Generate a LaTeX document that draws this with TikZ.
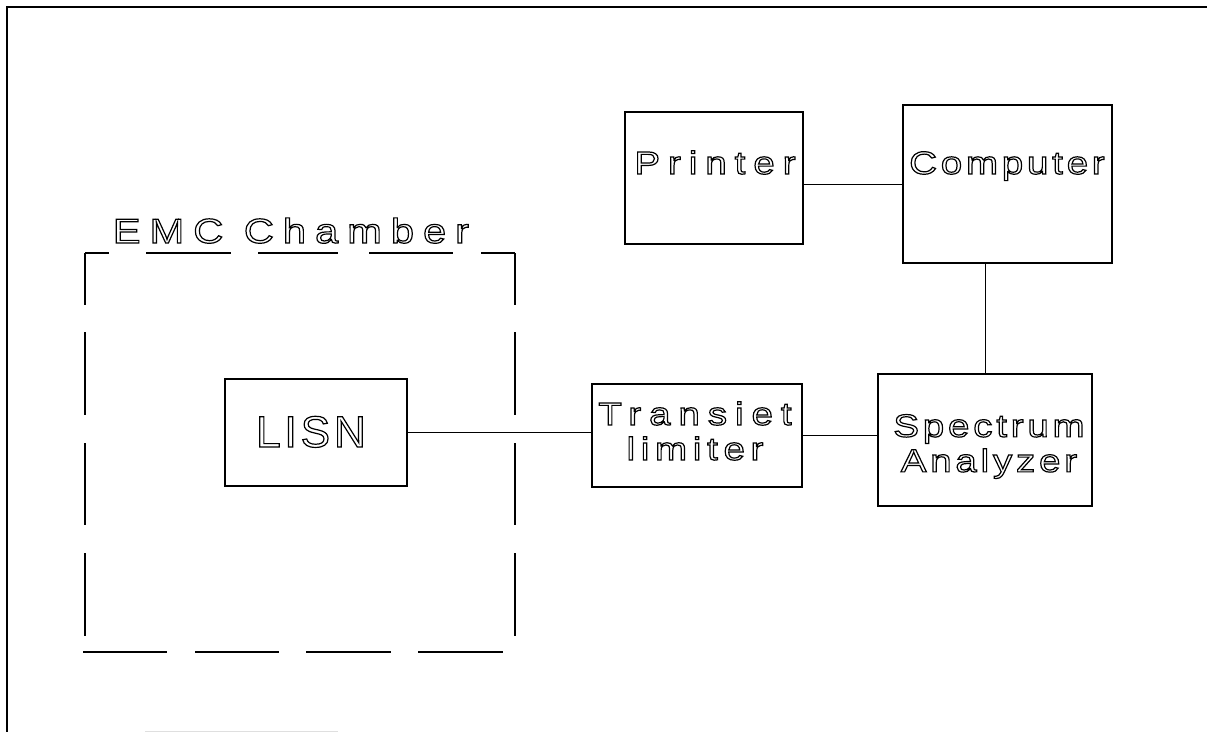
\documentclass[tikz,border=0pt]{standalone}
\usepackage{fontspec}
\newfontfamily\labA[FakeStretch=1.2, LetterSpace=12]{Liberation Sans}
\newfontfamily\labB[FakeStretch=1.2, LetterSpace=25]{Liberation Sans}
\newfontfamily\labC[FakeStretch=1.2, LetterSpace=18]{Liberation Sans}
\newfontfamily\labE[FakeStretch=1.2, LetterSpace=26]{Liberation Sans}
\newfontfamily\labL[LetterSpace=9]{Liberation Sans}
\newcommand\hol[1]{\special{pdf:literal direct 0 0 0 RG 0.9 w 1 Tr}#1\special{pdf:literal direct 0 Tr}}
\begin{document}
\begin{tikzpicture}[x=0.75pt,y=-0.75pt,
  box/.style={draw, line width=0.8pt, inner sep=0pt},
  conn/.style={draw, line width=0.7pt},
  frameline/.style={draw, line width=1.2pt},
  chamber/.style={draw, line width=0.9pt},
  txt/.style={text=black, font=\labA\fontsize{24}{26.25}\selectfont, align=center, inner sep=0pt},
  txtW/.style={text=black, font=\labB\fontsize{24}{26.25}\selectfont, align=center, inner sep=0pt},
  txtE/.style={text=black, font=\labE\fontsize{26}{28}\selectfont, align=center, inner sep=0pt},
  txtL/.style={text=black, font=\labL\fontsize{33}{36}\selectfont, align=center, inner sep=0pt}]
\useasboundingbox (0,0) rectangle (1207,732);
% frame
\draw[frameline] (7,732) -- (7,7) -- (1207,7);
\draw[gray!25, line width=0.7pt] (145,731) -- (338,731);
% EMC chamber dashed outline
\draw[chamber]
  (85,253) -- (109,253) (146,253) -- (231,253) (258,253) -- (338,253)
  (369,253) -- (453,253) (481,253) -- (515,253)
  (85,253) -- (85,305) (85,332) -- (85,415) (85,443) -- (85,525) (85,553) -- (85,636)
  (515,253) -- (515,305) (515,332) -- (515,415) (515,443) -- (515,525) (515,553) -- (515,636)
  (83,652) -- (167,652) (195,652) -- (279,652) (306,652) -- (391,652) (418,652) -- (503,652);
\node[txtE, anchor=base] (emc) at (291,243) {\hol{EMC Chamber}};
% boxes
\node[box, minimum width=136.5pt, minimum height=80.25pt] (lisn) at (316,432.5) {};
\node[box, minimum width=157.5pt, minimum height=77.25pt] (trans) at (697,435.5) {};
\node[box, minimum width=160.5pt, minimum height=99pt] (spec) at (985,440) {};
\node[box, minimum width=133.5pt, minimum height=99pt] (printer) at (714,178) {};
\node[box, minimum width=156.75pt, minimum height=118.5pt] (comp) at (1007.5,184) {};
% labels
\node[txtL, anchor=base] (lisnT) at (311,447) {\hol{LISN}};
\node[txt] (transT) at (695,431) {\hol{\labB Transiet}\\\hol{\labC limiter}};
\node[txt] (specT) at (989,446.5) {\hol{Spectrum}\\\hol{Analyzer}};
\node[txtW, anchor=base] (printerT) at (715,174) {\hol{Printer}};
\node[txt, anchor=base] (compT) at (1007,174) {\hol{Computer}};
% connectors
\draw[conn] (lisn.east) -- (lisn.east -| trans.west);
\draw[conn] (trans.east) -- (trans.east -| spec.west);
\draw[conn] (comp.west -| printer.east) -- (comp.west);
\draw[conn] (spec.north) -- (spec.north |- comp.south);
\end{tikzpicture}
\end{document}
